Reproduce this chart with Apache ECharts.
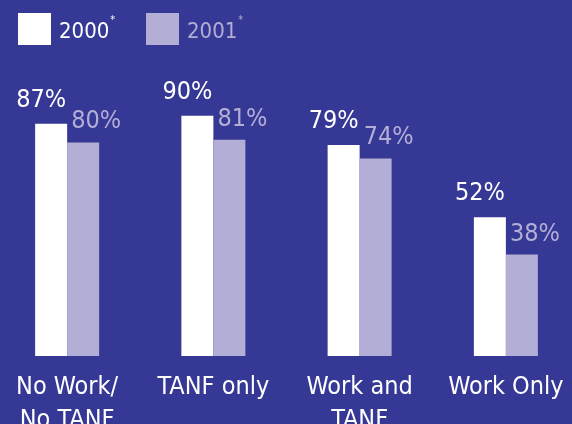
<!DOCTYPE html>
<html><head><meta charset="utf-8">
<script src="https://cdn.jsdelivr.net/npm/echarts@6/dist/echarts.min.js"></script>
<style>html,body{margin:0;padding:0;background:#363895;}#c{width:572px;height:424px;}</style>
</head><body><div id="c"></div>
<script>
const categories = ['No Work/\nNo TANF', 'TANF only', 'Work and\nTANF', 'Work Only'];
const values2000 = [87, 90, 79, 52];
const values2001 = [80, 81, 74, 38];
const seriesNames = ['2000', '2001'];

const BG = '#363895', WHITE = '#ffffff', LAV = '#b3aed6';
const FONT = '"DejaVu Sans Condensed", "Liberation Sans Narrow", sans-serif';

const chart = echarts.init(document.getElementById('c'));
function legendFor(name, color, left) {
  return {
    left: left, top: 13, padding: 0, itemWidth: 33, itemHeight: 32, icon: 'rect', itemGap: 0,
    data: [name],
    formatter: n => '{a|' + n + '}{s|*}',
    textStyle: {
      color: color,
      rich: {
        a: { color: color, fontSize: 22, fontFamily: FONT, padding: [6, 0, 0, 3] },
        s: { color: color, fontSize: 11, fontFamily: FONT, verticalAlign: 'top', padding: [0, 0, 10, 1] }
      }
    }
  };
}
chart.setOption({
  backgroundColor: BG,
  animation: false,
  legend: [legendFor(seriesNames[0], WHITE, 18), legendFor(seriesNames[1], LAV, 146)],
  grid: { left: -6, right: -7, top: 89, bottom: 68, containLabel: false, outerBoundsMode: 'none' },
  xAxis: {
    type: 'category', data: categories,
    axisLine: { show: false }, axisTick: { show: false },
    axisLabel: { color: WHITE, fontSize: 25, lineHeight: 33, fontFamily: FONT, margin: 15, interval: 0 }
  },
  yAxis: { type: 'value', min: 0, max: 100, show: false, splitLine: { show: false } },
  series: [
    { name: seriesNames[0], type: 'bar', data: values2000, barWidth: 32, barGap: 0,
      itemStyle: { color: WHITE },
      label: { show: true, position: 'top', distance: 11, offset: [-10, 0], formatter: '{c}%', color: WHITE, fontSize: 25, fontFamily: FONT } },
    { name: seriesNames[1], type: 'bar', data: values2001, barWidth: 32, barGap: 0,
      itemStyle: { color: LAV },
      label: { show: true, position: 'top', distance: 8, offset: [13, 0], formatter: '{c}%', color: LAV, fontSize: 25, fontFamily: FONT } }
  ]
});
</script></body></html>
